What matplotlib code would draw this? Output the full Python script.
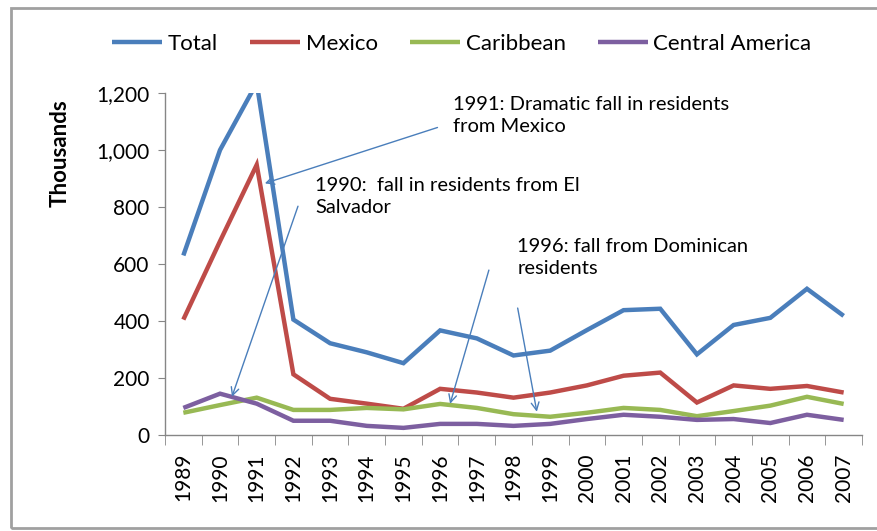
import matplotlib
matplotlib.use("Agg")
import matplotlib.pyplot as plt
from matplotlib.patches import Rectangle
from matplotlib.ticker import FuncFormatter

plt.rcParams['font.family'] = ['Lato', 'DejaVu Sans']

years = [1989, 1990, 1991, 1992, 1993, 1994, 1995, 1996, 1997, 1998,
         1999, 2000, 2001, 2002, 2003, 2004, 2005, 2006, 2007]
total = [630, 1000, 1235, 405, 322, 290, 252, 367, 339, 279,
         296, 368, 438, 443, 283, 386, 411, 513, 418]
mexico = [405, 680, 948, 213, 127, 110, 92, 162, 149, 131,
          149, 174, 208, 219, 114, 174, 162, 172, 149]
caribbean = [78, 105, 131, 88, 88, 95, 90, 109, 95, 73,
             64, 78, 95, 88, 66, 84, 103, 134, 109]
central_america = [95, 145, 110, 50, 50, 32, 25, 39, 39, 32,
                   39, 56, 71, 64, 53, 56, 42, 71, 53]

series_names = ["Total", "Mexico", "Caribbean", "Central America"]
colors = ["#4a7ebb", "#be4b48", "#98b954", "#7d5fa0"]

fig = plt.figure(figsize=(8.77, 5.31), dpi=100)
ax = fig.add_axes([165/877, 1-435/531, (862-165)/877, (435-93)/531])

for vals, name, c in zip([total, mexico, caribbean, central_america], series_names, colors):
    ax.plot(years, vals, color=c, lw=3.2, label=name, solid_capstyle='butt',
            solid_joinstyle='miter')

ax.set_xlim(1988.5, 2007.5)
ax.set_ylim(0, 1200)
ax.set_yticks(range(0, 1201, 200))
ax.yaxis.set_major_formatter(FuncFormatter(lambda v, p: f"{int(v):,}"))
ax.set_xticks(years)
ax.set_xticklabels([str(y) for y in years], rotation=90, fontsize=15)
ax.set_xticks([y + 0.5 for y in [1988] + years], minor=True)
ax.tick_params(axis='x', which='major', length=0, pad=13)
ax.tick_params(axis='x', which='minor', length=7, color='#868686', direction='out')
ax.tick_params(axis='y', which='major', length=5, color='#868686', labelsize=15, pad=6)
for s in ['top', 'right']:
    ax.spines[s].set_visible(False)
for s in ['left', 'bottom']:
    ax.spines[s].set_color('#868686')
    ax.spines[s].set_linewidth(1.0)
fig.text(60/877, 1-153/531, "Thousands", fontsize=16, fontweight='bold',
         rotation=90, ha='center', va='center')

leg = fig.legend(loc='center', bbox_to_anchor=(462/877, 1-44/531), ncol=4,
                 frameon=False, fontsize=16, handlelength=2.25, columnspacing=1.45,
                 handletextpad=0.25)

arrow_kw = dict(arrowstyle='->', color='#4a7ebb', lw=1.0, mutation_scale=14)
ax.annotate("", xy=(1991.15, 880), xytext=(1996.0, 1082), arrowprops=arrow_kw)
ax.annotate("", xy=(1990.3, 125), xytext=(1992.15, 812), arrowprops=arrow_kw)
ax.annotate("", xy=(1996.25, 100), xytext=(1997.35, 588), arrowprops=arrow_kw)
ax.annotate("", xy=(1998.65, 72), xytext=(1998.1, 455), arrowprops=arrow_kw)

ax.text(1996.35, 1190, "1991: Dramatic fall in residents\nfrom Mexico", fontsize=14.5,
        va='top', ha='left', linespacing=1.35)
ax.text(1992.6, 905, "1990:  fall in residents from El\nSalvador", fontsize=14.5,
        va='top', ha='left', linespacing=1.35)
ax.text(1998.1, 690, "1996: fall from Dominican\nresidents", fontsize=14.5,
        va='top', ha='left', linespacing=1.35)

fig.patches.append(Rectangle((11/877, 1-528/531), 1.0, (528-8)/531,
                             transform=fig.transFigure, fill=False,
                             edgecolor='#a0a0a0', lw=2.0, zorder=0))

fig.savefig("out.png", dpi=100)
